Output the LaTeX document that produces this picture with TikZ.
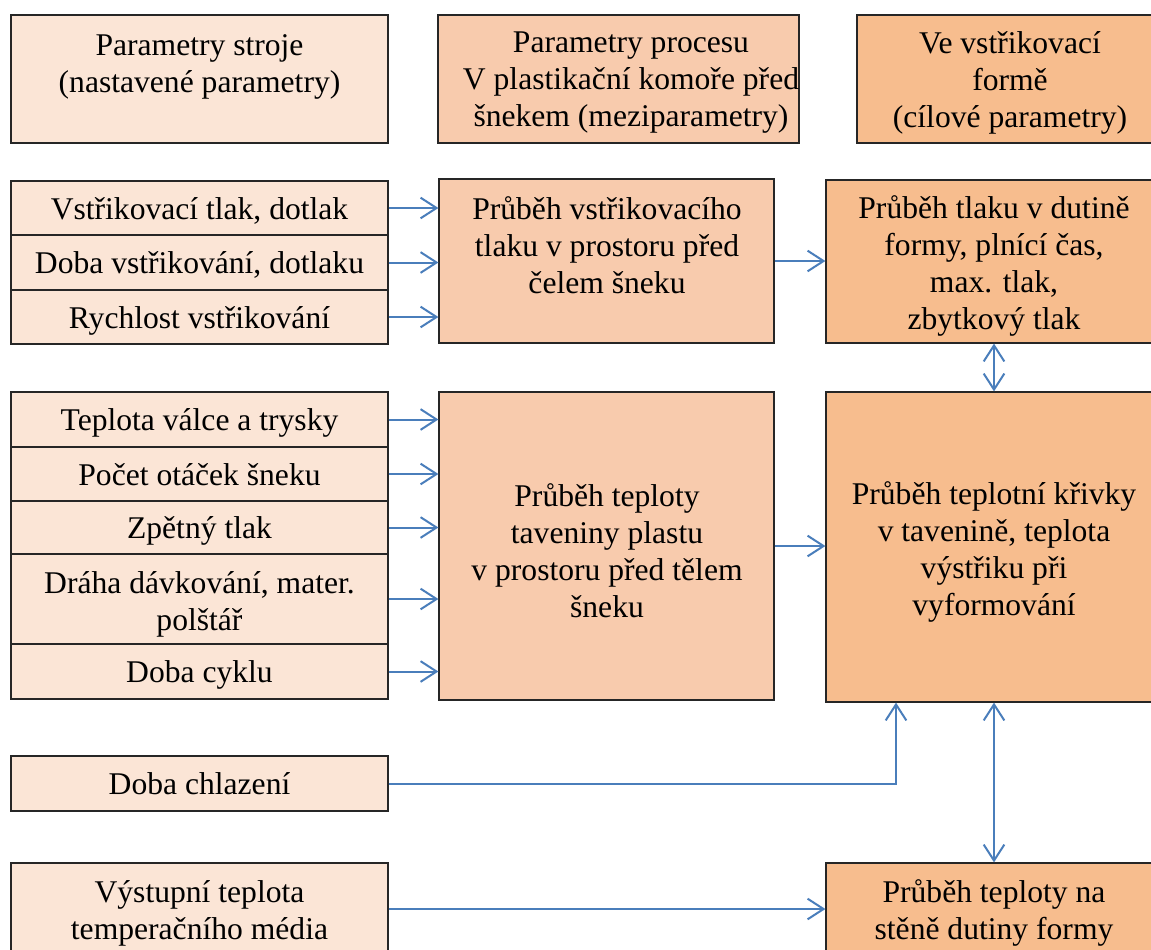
\documentclass[tikz,border=0pt]{standalone}
\usepackage{fontspec}
\setmainfont{Liberation Serif}
\usetikzlibrary{arrows.meta,calc}
\definecolor{cLight}{HTML}{FBE5D6}
\definecolor{cMid}{HTML}{F8CBAD}
\definecolor{cDark}{HTML}{F7BD8E}
\definecolor{cArrow}{HTML}{4A7EBB}
\newcommand\mkbox[7]{\node[#1, minimum width=#5*0.75pt, minimum height=#6*0.75pt] (#2) at ({#3+#5/2},{#4+#6/2}) {#7};}
\tikzset{
  boxbase/.style={draw=black!85, line width=0.9pt, rectangle, inner sep=0pt, anchor=center,
    font=\fontsize{23.7pt}{27.75pt}\selectfont, text height=20pt, text depth=3.5pt},
  lightbox/.style={boxbase, fill=cLight},
  midbox/.style={boxbase, fill=cMid},
  darkbox/.style={boxbase, fill=cDark},
  txt/.style={font=\fontsize{23.7pt}{27.75pt}\selectfont, align=center, inner sep=0pt},
  arr/.style={draw=cArrow, line width=1.5pt, -{Straight Barb[length=12pt,width=15.5pt,line width=1.5pt]}},
  darr/.style={draw=cArrow, line width=1.5pt, {Straight Barb[length=12pt,width=15.5pt,line width=1.5pt]}-{Straight Barb[length=12pt,width=15.5pt,line width=1.5pt]}}
}
\begin{document}
\begin{tikzpicture}[x=0.75pt,y=-0.75pt]
\useasboundingbox (0,0) rectangle (1151,949);
\clip (0,0) rectangle (1151,949);
\fill[white] (0,0) rectangle (1151,949);
% header row
\mkbox{lightbox}{p1}{11}{15}{377}{128}{}
\mkbox{midbox}{p2}{438}{15}{361}{128}{}
\mkbox{darkbox}{p3}{857}{15}{306}{128}{}
\node[txt] (p1t) at (199.5,67) {Parametry stroje\\(nastavené parametry)};
\node[txt] (p2t) at (631,82.5) {Parametry procesu\\V plastikační komoře před\\šnekem (meziparametry)};
\node[txt] (p3t) at (1010,83) {Ve vstřikovací\\formě\\(cílové parametry)};
% pressure block
\mkbox{lightbox}{c1}{11}{181}{377}{54}{Vstřikovací tlak, dotlak}
\mkbox{lightbox}{c2}{11}{235}{377}{55}{Doba vstřikování, dotlaku}
\mkbox{lightbox}{c3}{11}{290}{377}{54}{Rychlost vstřikování}
\mkbox{midbox}{m1}{439}{179}{335}{164}{}
\node[txt] (m1t) at (607,245) {Průběh vstřikovacího\\tlaku v prostoru před\\čelem šneku};
\mkbox{darkbox}{r1}{826}{180}{336}{163}{}
\node[txt] (r1t) at (994,266) {Průběh tlaku v dutině\\formy, plnící čas,\\max. tlak,\\zbytkový tlak};
% temperature block
\mkbox{lightbox}{d1}{11}{392}{377}{55}{Teplota válce a trysky}
\mkbox{lightbox}{d2}{11}{447}{377}{54}{Počet otáček šneku}
\mkbox{lightbox}{d3}{11}{501}{377}{53}{Zpětný tlak}
\mkbox{lightbox}{d4}{11}{554}{377}{90}{}
\node[txt] (d4t) at (199.5,604) {Dráha dávkování, mater.\\polštář};
\mkbox{lightbox}{d5}{11}{644}{377}{55}{Doba cyklu}
\mkbox{midbox}{m2}{439}{392}{335}{308}{}
\node[txt] (m2t) at (607,551) {Průběh teploty\\taveniny plastu\\v prostoru před tělem\\šneku};
\mkbox{darkbox}{r2}{826}{392}{336}{310}{}
\node[txt] (r2t) at (994,552) {Průběh teplotní křivky\\v tavenině, teplota\\výstřiku při\\vyformování};
% bottom
\mkbox{lightbox}{chl}{11}{756}{377}{55}{Doba chlazení}
\mkbox{lightbox}{vys}{11}{863}{377}{92}{}
\node[txt] (vyst) at (199.5,913) {Výstupní teplota\\temperačního média};
\mkbox{darkbox}{br}{826}{863}{336}{92}{}
\node[txt] (brt) at (994,913) {Průběh teploty na\\stěně dutiny formy};
% connectors
\foreach \c in {c1,c2,c3} \draw[arr] (\c.east) -- (\c.east -| m1.west);
\foreach \c in {d1,d2,d3,d4,d5} \draw[arr] (\c.east) -- (\c.east -| m2.west);
\draw[arr] (m1.east) -- (m1.east -| r1.west);
\draw[arr] (m2.east) -- (m2.east -| r2.west);
\draw[darr] (r1.south) -- (r2.north);
\draw[darr] (r2.south) -- (br.north);
\coordinate (kx) at (896,0);
\draw[arr] (chl.east) -| (kx |- r2.south);
\draw[arr] (vys.east) -- (vys.east -| br.west);
\end{tikzpicture}
\end{document}
